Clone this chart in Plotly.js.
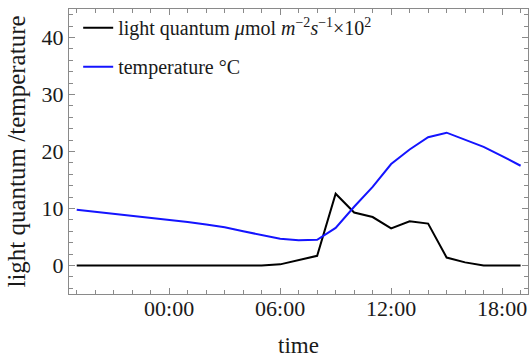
<!DOCTYPE html>
<html>
<head>
<meta charset="utf-8">
<script src="https://cdn.plot.ly/plotly-3.0.1.min.js"></script>
<style>html,body{margin:0;padding:0;background:#fff;}#chart{width:529px;height:358px;}</style>
</head>
<body>
<div id="chart"></div>
<script>
// hourly time stamps, 19:00 previous day to 19:00
var times = [
  "2023-01-01 19:00", "2023-01-01 20:00", "2023-01-01 21:00", "2023-01-01 22:00", "2023-01-01 23:00",
  "2023-01-02 00:00", "2023-01-02 01:00", "2023-01-02 02:00", "2023-01-02 03:00", "2023-01-02 04:00",
  "2023-01-02 05:00", "2023-01-02 06:00", "2023-01-02 07:00", "2023-01-02 08:00", "2023-01-02 09:00",
  "2023-01-02 10:00", "2023-01-02 11:00", "2023-01-02 12:00", "2023-01-02 13:00", "2023-01-02 14:00",
  "2023-01-02 15:00", "2023-01-02 16:00", "2023-01-02 17:00", "2023-01-02 18:00", "2023-01-02 19:00"
];
// light quantum (umol m^-2 s^-1 x 10^2)
var lightQuantum = [0, 0, 0, 0, 0, 0, 0, 0, 0, 0, 0, 0.2, 0.9, 1.7, 12.6, 9.3, 8.5, 6.5, 7.75, 7.35, 1.4, 0.55, 0, 0, 0];
// temperature (deg C)
var temperature = [9.8, 9.45, 9.1, 8.75, 8.4, 8.05, 7.65, 7.2, 6.7, 6.0, 5.3, 4.7, 4.45, 4.5, 6.6, 10.3, 13.8, 17.8, 20.35, 22.5, 23.3, 22.1, 20.8, 19.2, 17.5];

var seriesNames = [
  "light quantum <i>μ</i>mol <i>m</i><sup>−2</sup><i>s</i><sup>−1</sup>×10<sup>2</sup>",
  "temperature °C"
];
var xTickVals = ["2023-01-02 00:00", "2023-01-02 06:00", "2023-01-02 12:00", "2023-01-02 18:00"];
var xTickText = ["00:00", "06:00", "12:00", "18:00"];

var serif = "Liberation Serif, Times New Roman, serif";
var frameColor = "#8a8a8a";

var traces = [
  {x: times, y: lightQuantum, type: "scatter", mode: "lines", name: seriesNames[0],
   legendgroup: "a", line: {color: "#000000", width: 2}},
  {x: times, y: temperature, type: "scatter", mode: "lines", name: seriesNames[1],
   legendgroup: "b", line: {color: "#1414ff", width: 2}}
];

var layout = {
  width: 529, height: 358,
  margin: {l: 69, r: 1, t: 9, b: 64},
  paper_bgcolor: "#ffffff", plot_bgcolor: "#ffffff",
  font: {family: serif, color: "#1a1a1a"},
  showlegend: true,
  legend: {x: 0.02, y: 1.003, xanchor: "left", yanchor: "top",
           bgcolor: "rgba(0,0,0,0)", font: {family: serif, size: 20, color: "#1a1a1a"},
           tracegroupgap: 10},
  xaxis: {
    type: "date",
    range: ["2023-01-01 18:35", "2023-01-02 19:24"],
    tickvals: xTickVals, ticktext: xTickText,
    ticks: "inside", ticklen: 6, tickwidth: 1, tickcolor: frameColor,
    ticklabelposition: "outside",
    ticklabelstandoff: -5,
    minor: {dtick: 3600000, tick0: "2023-01-02 00:00", ticks: "inside", ticklen: 4, tickcolor: frameColor, showgrid: false},
    showline: true, linecolor: frameColor, linewidth: 1, mirror: "allticks",
    showgrid: false, zeroline: false,
    automargin: true,
    tickfont: {family: serif, size: 22, color: "#1a1a1a"},
    title: {text: "time", font: {family: serif, size: 23, color: "#1a1a1a"}, standoff: 17}
  },
  yaxis: {
    range: [-5, 45], tickmode: "linear", tick0: 0, dtick: 10,
    ticks: "inside", ticklen: 6, tickwidth: 1, tickcolor: frameColor,
    minor: {dtick: 2, ticks: "inside", ticklen: 4, tickcolor: frameColor, showgrid: false},
    showline: true, linecolor: frameColor, linewidth: 1, mirror: "allticks",
    showgrid: false, zeroline: false,
    tickfont: {family: serif, size: 22, color: "#1a1a1a"},
    title: {text: "light quantum /temperature", font: {family: serif, size: 25, color: "#1a1a1a"}, standoff: 8}
  }
};

Plotly.newPlot("chart", traces, layout, {displayModeBar: false, staticPlot: true});
</script>
</body>
</html>
